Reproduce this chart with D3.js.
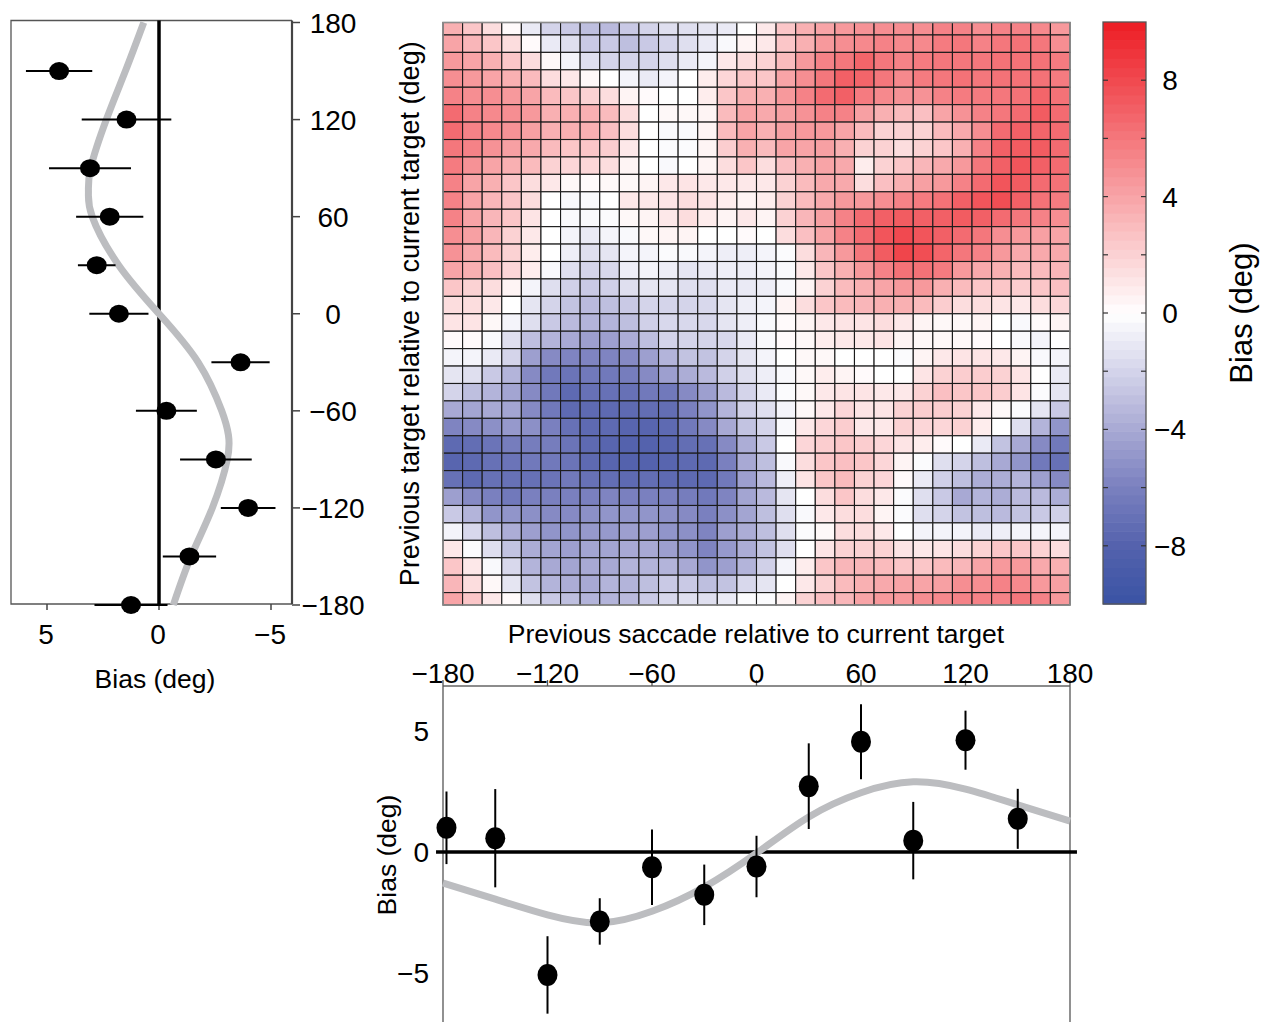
<!DOCTYPE html>
<html><head><meta charset="utf-8">
<script src="https://cdn.jsdelivr.net/npm/d3@7"></script>
<style>
body{margin:0;background:#fff}
svg{display:block}
text{font-family:"Liberation Sans",Arial,sans-serif;fill:#000}
</style>
</head><body>
<svg id="chart" width="1265" height="1022"></svg>
<script>
// ---------------- DATA ----------------
// Heat map: 34 rows (top = +180 deg previous target) x 32 columns (-180..180 previous saccade)
const heatColCount = 32;          // 11.25 deg columns
const heatRowStep = 10.77;        // deg per full row
const heatRowOffset = 7.7;        // height of the clipped first/last rows (deg)
const heatValues = [
 [3.5,2.5,1.5,0.2,-1,-2,-2.5,-3,-3.2,-2.5,-2,-1.5,-1.5,-1.2,-1,0, 1,2.5,3.5,4,4.5,4.8,5,5,5,5.5,5.5,5,5.5,5.5,5.2,4.5],
 [4,3.2,2.5,1.5,0.2,-1,-1.5,-2.5,-2.5,-3,-2.5,-2,-1.5,-1,-0.3,0.5, 1,2.5,3.5,4.5,5,5.2,5.5,5.2,5.2,5.8,6,5.5,6,6.2,6,5],
 [4.5,4,3.5,2.5,1.5,0.3,-0.5,-1.5,-2,-2,-2,-1.5,-1,-0.5,1,1.5, 2,3,4.5,5.5,6,6.8,6,5.5,5.8,6,6,6,6.2,6.2,6.2,5.8],
 [5,4.5,4,3.5,3,1.5,1,0.3,0,-0.5,-1,-0.5,0,0.8,1.8,2.5, 2.5,4,5,6,7,6.8,6,5.2,5.8,6,6.2,6,6.2,6.2,6.2,5.8],
 [5.5,5,5,4.5,4,3,2.5,2,1.5,0.5,0.2,0,0,0.8,2.5,3.5, 3.5,4.5,5.5,6.5,7,5.8,5.2,4.8,4.8,5.5,5.8,5.8,6,6.2,6.8,6.2],
 [6.5,5.5,5.2,5,4.5,3.5,3.5,3.5,3,1.5,0,0.3,0.3,0.5,3,4, 3.8,4.2,4.8,5.5,5.5,4.2,3.5,3,2.8,4,4.8,5.5,6,6.5,7.2,6.5],
 [6.5,5.5,5.2,4.8,4.2,3.5,3.5,3.5,2.8,1.5,0,-0.3,-0.3,0.5,3,4, 3.5,4.2,4.5,4.5,4,3,2,2,2,3,3.8,5,6.5,7,6.8,6.5],
 [6,5.5,4.8,4.2,3.8,3,2.5,2.5,2.2,1,0,-0.2,-0.2,0.5,2.2,3.5, 3,4,4,4.2,3.5,2,2,1.5,2,2.5,3.5,5.5,7,7.2,7.2,6.5],
 [5.8,4.8,4,3.5,3,2,1.8,1.8,1.5,0.5,0,-0.3,0,0.5,1.5,2.5, 1.5,2.8,3.5,4,3.8,0.8,2,2.5,3.2,3.8,4.5,6,7,7.5,7,6.5],
 [5.5,4,3.5,2.5,1.5,1,0.3,0.2,0.3,0.3,0.5,1,1.2,1,1,1, 1,2,3,3.8,3.8,1.5,2.8,3.5,4.2,4.5,5.5,6.5,7.5,7.2,6.5,6.2],
 [5.5,4,3.2,2.5,1.5,0,-0.3,-0.3,0,1,1,1.2,1.5,1.2,0.8,0.5, 0.8,2,3,3.8,4.5,4.5,5,5.5,5.8,6.2,7,7.5,7.8,7,6.2,5.8],
 [5.5,4,3.2,2.5,1.2,0,-0.3,-0.3,-0.2,0.3,0.5,1,1.5,0.8,0.5,1, 0.5,2,3.2,4.2,5.5,6.5,7,7.2,7,7,7.2,7,6.5,6,5.5,5],
 [5,4.2,3.2,2,1,0,-0.5,-1,-0.5,-0.3,0.3,0.5,0.5,0,0,0.2, 0,1.5,2.8,4,5.5,6.5,7.5,8,7.5,7,6.5,6,5,4.5,4.2,4],
 [4.8,3.8,3,2,0.8,0,-0.8,-1.5,-1.2,-0.5,-0.5,-0.2,-0.3,-0.5,-0.8,-0.8, -0.5,-0.2,1.5,3.2,4.5,6,7.2,8.2,7.8,6.8,6,5.5,4.5,3.8,3.8,3.8],
 [4,3.5,2.8,1.8,0.8,-0.3,-1.5,-2,-1.8,-0.8,-0.5,-0.8,-1.2,-1,-0.8,-0.8, -0.5,-0.3,1,2.5,3.5,4.5,5.5,6.2,6.2,5.8,4.5,3.8,3.5,3,3,3.2],
 [2.5,2,1.5,0.5,-0.5,-1.5,-2.2,-2.5,-2.2,-1.5,-1.2,-1.2,-1.5,-1.5,-1,-1, -0.8,-0.3,0.5,2,3,3.5,4,4.5,4.5,3.5,3,2.5,2.5,2.2,2.5,2.8],
 [1.5,1.5,1,0,-1.2,-2,-2.8,-3.2,-3,-2.5,-2,-2,-2,-1.8,-1.2,-0.8, -0.5,0.5,1.5,2.5,3,3.2,3.5,3.5,3,2.2,1.5,1.5,1.2,1,1.5,1.8],
 [1.2,1.2,0.3,-0.5,-1.5,-2.5,-3.2,-3.5,-3.5,-3,-2.2,-1.8,-1.8,-1.8,-1.2,-0.8, -0.3,0.2,0.5,1,1.2,1.2,1.5,1,0.5,0.3,0.3,0.5,0,-0.3,0.2,0.5],
 [0.2,0.2,-0.3,-1.5,-3,-3.5,-4,-4.5,-4.5,-3.8,-3,-2,-2,-2,-1.8,-1, -0.3,0.2,0.3,0.8,1,1,1.2,0.5,0.3,0.3,0.3,0.2,0,-0.3,-0.5,0],
 [-0.5,-0.5,-1,-2,-4.5,-5.5,-5.8,-5.8,-5.8,-5.5,-4.5,-3.5,-2.8,-2.8,-2,-1.2, -0.5,0,0.3,0.3,0,0,0,-0.2,0.5,1,1.2,1.2,1,0.5,-0.3,-0.5],
 [-1.2,-1.5,-2.5,-3.5,-5.5,-6.5,-6.8,-6.5,-6.5,-6.2,-5.5,-4.5,-3.8,-3.2,-2.2,-1.5, -0.8,-0.3,0.3,0.8,0.5,0.2,0,0,1.2,2,2.2,2.2,2,1.2,0,-1],
 [-2,-3,-3.5,-4.2,-5.5,-6.5,-7.5,-7,-7,-7,-6.5,-6.5,-5.5,-4.5,-3.2,-2, -1,-0.2,0.3,1,1.2,1.2,1,1,2,2.8,2.5,2.5,2.2,1.2,-0.2,-1.2],
 [-4,-4.2,-4,-4.2,-5.5,-6.5,-7.5,-7.5,-7.5,-7.5,-7.2,-7.2,-6,-5,-3.5,-2.2, -1.5,-0.5,0.3,1,1.8,1.2,1.2,2,2.2,2.2,2,1,0.3,-0.2,-1.2,-2.5],
 [-5.8,-5.5,-5.2,-4.8,-5.2,-6,-7,-7.5,-7.5,-7.8,-7.8,-7.5,-6.5,-5.5,-4,-2.8, -2,-0.3,1,1.8,2.2,1,1,2,1.8,1.8,2,0.8,0,-1.5,-3.5,-5],
 [-7.5,-7.2,-6.8,-6.2,-6.2,-6.2,-6.8,-7.5,-7.8,-8,-8,-7.8,-7.2,-7,-5.5,-3.8, -2.5,0,1.8,2.2,2.5,2.2,1.8,1.2,0.8,0.2,0,-1,-2.8,-4,-5.5,-6.5],
 [-7.8,-7.5,-7,-6.8,-6.5,-6.5,-6.8,-7.5,-7.8,-8,-8,-7.8,-7.5,-7.5,-6,-4, -3,-0.3,1.5,2.5,2.8,2.5,1.8,0.5,-0.2,-1.5,-2,-3,-4,-5,-6.5,-7],
 [-7,-7.5,-7,-7,-7,-6.8,-6.5,-7,-7.2,-7.5,-7.2,-7.5,-7.5,-7.5,-6.5,-4.5, -3.2,-0.8,1.2,2.5,3,2,1.8,0.2,-1,-2.2,-3,-3.8,-3.8,-3.5,-4.5,-5.5],
 [-4.5,-5.5,-6,-6.5,-6,-6,-6,-6,-5.8,-6,-6,-6,-6.2,-6.5,-5.8,-4.2, -3.2,-1.2,0,1.5,2.5,1.5,1,-0.2,-1.5,-2.5,-4,-3.5,-3.8,-3.2,-3.2,-3.8],
 [-2.5,-3.5,-5,-5,-5.2,-5.5,-5.5,-5.2,-5,-5,-5,-5.2,-5.5,-6,-5.2,-4.2, -3,-1.5,-0.3,1,1.5,1.5,0.5,-0.2,-1.5,-2,-2.8,-3,-3.2,-2.8,-2.5,-2.2],
 [-0.5,-1.8,-3,-3.8,-4.5,-5,-5,-4.8,-4.8,-4.5,-4.5,-5,-5.2,-5.8,-4.5,-3.8, -3,-1.5,-0.2,0.3,1.5,1.5,1,0,-0.5,-0.5,-0.5,-1,-0.8,-0.5,-0.5,-0.5],
 [1,-0.2,-1.5,-2.8,-3.8,-4.2,-4.5,-4.2,-4.2,-4,-4,-4.5,-5,-5.8,-4.8,-3.8, -2.8,-1.5,0,1.2,2,2,2,1.2,1,1.2,1.5,2,2.5,2.5,2,1.5],
 [2.5,1,-0.3,-1.8,-3.5,-4,-4.2,-4,-4,-3.5,-3.5,-3.5,-4,-5,-4.5,-3.5, -2.2,-0.5,0.8,2.5,3.2,3.2,3,2.5,2.5,3,3.2,4,4.5,4.5,3.8,3.5],
 [3.2,1.5,0.3,-1.2,-2.8,-3.5,-3.8,-4,-3.5,-3.5,-3,-2.5,-2.5,-3,-2.8,-1.8, -1.2,0,1,2,3,3.5,3.8,4,4,4.2,5,5,5.5,5.2,4.5,4.2],
 [4,2.5,1,0.2,-1.5,-2.5,-3,-3.5,-3.5,-3.2,-2.5,-1.8,-1.5,-1.5,-1,-0.2, -0.2,0.5,2,2.8,3.2,4,4.5,4.5,5,5.2,5.5,5.5,5.5,6,5.5,4.5]
];

// Left panel: bias vs previous target angle
const sideAngles = [150,120,90,60,30,0,-30,-60,-90,-120,-150,-180];
const sideBias   = [4.46,1.45,3.08,2.2,2.78,1.79,-3.64,-0.33,-2.54,-3.98,-1.36,1.25];
const sideErr    = [1.48,2.0,1.83,1.5,0.84,1.32,1.3,1.36,1.6,1.22,1.19,1.63];
const sideFitAngles = [180,150,120,90,75,60,30,0,-30,-60,-75,-90,-120,-150,-180];
const sideFitBias   = [0.68,1.5,2.35,3.05,3.15,2.98,1.8,0,-1.75,-2.8,-3.1,-3.05,-2.38,-1.43,-0.64];

// Bottom panel: bias vs previous saccade angle
const bottomAngles = [-178,-150,-120,-90,-60,-30,0,30,60,90,120,150];
const bottomBias   = [1.0,0.57,-5.08,-2.87,-0.63,-1.77,-0.6,2.72,4.56,0.47,4.62,1.37];
const bottomErr    = [1.5,2.03,1.6,0.96,1.56,1.25,1.27,1.77,1.55,1.6,1.22,1.24];
const bottomFitAngles = [-180,-150,-120,-90,-60,-30,0,30,60,90,120,150,180];
const bottomFitBias   = [-1.28,-1.95,-2.6,-2.93,-2.45,-1.45,-0.05,1.45,2.45,2.9,2.6,1.95,1.28];

// Tick labels
const angleTicks = [-180,-120,-60,0,60,120,180];
const biasTicks = [5,0,-5];
const colorbarTicks = [8,4,0,-4,-8];
const colorbarMinorTicks = [-8,-6,-4,-2,0,2,4,6,8];

// ---------------- DRAW ----------------
const svg = d3.select("#chart");
const fmt = v => (v < 0 ? "\u2212" + Math.abs(v) : String(v));
const TICK_FS = "28px";

const color = d3.scaleLinear()
  .domain([-10,-8,-6,-4,-2,0,10])
  .range(["#3a53a4","#5462ad","#7a80bf","#a8a9d4","#d4d4ea","#ffffff","#ed1c24"])
  .clamp(true);

// shared angular scales
const xAng = d3.scaleLinear().domain([-180,180]).range([443,1070]);
const yAng = d3.scaleLinear().domain([-180,180]).range([605,22.5]);

// ---- heat map ----
const colStep = 360 / heatColCount;
const heat = svg.append("g");
heatValues.forEach((row, k) => {
  const top = k === 0 ? 180 : 180 - heatRowOffset - (k - 1) * heatRowStep;
  const bot = Math.max(-180, 180 - heatRowOffset - k * heatRowStep);
  heat.selectAll(null).data(row).enter().append("rect")
    .attr("x", (d,i) => xAng(-180 + i*colStep))
    .attr("y", yAng(top))
    .attr("width", xAng(colStep) - xAng(0))
    .attr("height", yAng(bot) - yAng(top))
    .attr("fill", d => color(d))
    .attr("stroke", "#1b1b1b")
    .attr("stroke-width", 1.1);
});
heat.append("rect").attr("x", xAng(-180)).attr("y", yAng(180))
  .attr("width", xAng(180)-xAng(-180)).attr("height", yAng(-180)-yAng(180))
  .attr("fill","none").attr("stroke","#8c8c8c").attr("stroke-width",1.5);

svg.append("text")
  .attr("transform", `translate(419,${(yAng(180)+yAng(-180))/2}) rotate(-90)`)
  .attr("text-anchor","middle").style("font-size","27px")
  .text("Previous target relative to current target (deg)");

// ---- colour bar ----
const cb = {x:1103, w:43};
const yC = d3.scaleLinear().domain([-10,10]).range([604,22]);
const nBands = 64;
const bandVals = d3.range(nBands);
svg.append("g").selectAll("rect").data(bandVals).enter().append("rect")
  .attr("x", cb.x).attr("width", cb.w)
  .attr("y", i => yC(-10 + (i+1)*20/nBands))
  .attr("height", i => yC(-10 + i*20/nBands) - yC(-10 + (i+1)*20/nBands) + 0.6)
  .attr("fill", i => color(-10 + (i+0.5)*20/nBands));
svg.append("rect").attr("x",cb.x).attr("y",yC(10)).attr("width",cb.w)
  .attr("height",yC(-10)-yC(10)).attr("fill","none").attr("stroke","#555").attr("stroke-width",1.3);
const cbt = svg.append("g");
cbt.selectAll("line.l").data(colorbarMinorTicks).enter().append("line")
  .attr("x1",cb.x).attr("x2",cb.x+5).attr("y1",d=>yC(d)).attr("y2",d=>yC(d))
  .attr("stroke","#333").attr("stroke-width",1.2);
cbt.selectAll("line.r").data(colorbarMinorTicks).enter().append("line")
  .attr("x1",cb.x+cb.w-5).attr("x2",cb.x+cb.w).attr("y1",d=>yC(d)).attr("y2",d=>yC(d))
  .attr("stroke","#333").attr("stroke-width",1.2);
cbt.selectAll("text").data(colorbarTicks).enter().append("text")
  .attr("x",1170).attr("y",d=>yC(d)).attr("dy","0.36em").attr("text-anchor","middle")
  .style("font-size",TICK_FS).text(fmt);
svg.append("text")
  .attr("transform", `translate(1252,${yC(0)}) rotate(-90)`)
  .attr("text-anchor","middle").style("font-size","31px").text("Bias (deg)");

// ---- left panel ----
const xL = d3.scaleLinear().domain([5,-5]).range([47,271]);
const L = {x0:11, x1:292, y0:yAng(180)-2, y1:604};
const lp = svg.append("g");
lp.append("path")
  .attr("d", `M${L.x1},${L.y0}H${L.x0}V${L.y1}H${L.x1}`)
  .attr("fill","none").attr("stroke","#555").attr("stroke-width",1.3);
lp.append("line").attr("x1",L.x1).attr("x2",L.x1).attr("y1",L.y0).attr("y2",L.y1)
  .attr("stroke","#444").attr("stroke-width",2.2);
lp.selectAll("line.yt").data(angleTicks).enter().append("line")
  .attr("x1",L.x1).attr("x2",L.x1+8).attr("y1",d=>yAng(d)).attr("y2",d=>yAng(d))
  .attr("stroke","#444").attr("stroke-width",1.5);
lp.selectAll("text.yt").data(angleTicks).enter().append("text")
  .attr("x",333).attr("y",d=>yAng(d)).attr("dy","0.36em").attr("text-anchor","middle")
  .style("font-size",TICK_FS).text(fmt);
lp.selectAll("line.xt").data(biasTicks).enter().append("line")
  .attr("x1",d=>xL(d)).attr("x2",d=>xL(d)).attr("y1",L.y1).attr("y2",L.y1+6)
  .attr("stroke","#444").attr("stroke-width",1.5);
lp.selectAll("text.xt").data(biasTicks).enter().append("text")
  .attr("x",d=>xL(d)-1).attr("y",634).attr("dy","0.36em").attr("text-anchor","middle")
  .style("font-size",TICK_FS).text(fmt);
lp.append("text").attr("x",155).attr("y",678).attr("dy","0.36em").attr("text-anchor","middle")
  .style("font-size","26.5px").text("Bias (deg)");
// zero line
lp.append("line").attr("x1",xL(0)).attr("x2",xL(0)).attr("y1",L.y0).attr("y2",L.y1)
  .attr("stroke","#000").attr("stroke-width",3.5);
// fit curve
const sideFit = sideFitAngles.map((a,i)=>[a, sideFitBias[i]]);
lp.append("path").datum(sideFit)
  .attr("d", d3.line().x(d=>xL(d[1])).y(d=>yAng(d[0])).curve(d3.curveNatural))
  .attr("fill","none").attr("stroke","#bcbdc0").attr("stroke-width",7).attr("stroke-linecap","butt");
// error bars + points
lp.selectAll("line.err").data(sideAngles).enter().append("line")
  .attr("x1",(d,i)=>xL(sideBias[i]+sideErr[i])).attr("x2",(d,i)=>xL(sideBias[i]-sideErr[i]))
  .attr("y1",d=>yAng(d)).attr("y2",d=>yAng(d))
  .attr("stroke","#000").attr("stroke-width",2);
lp.selectAll("ellipse").data(sideAngles).enter().append("ellipse")
  .attr("cx",(d,i)=>xL(sideBias[i])).attr("cy",d=>yAng(d))
  .attr("rx",10).attr("ry",9).attr("fill","#000");

// ---- bottom panel ----
const yB = d3.scaleLinear().domain([-5,5]).range([973,731]);
const B = {top:686, bottom:1030};
const bp = svg.append("g");
bp.append("line").attr("x1",xAng(-180)).attr("x2",xAng(180)).attr("y1",B.top).attr("y2",B.top)
  .attr("stroke","#666").attr("stroke-width",1.5);
bp.selectAll("line.side").data([-180,180]).enter().append("line")
  .attr("x1",d=>xAng(d)).attr("x2",d=>xAng(d)).attr("y1",B.top).attr("y2",B.bottom)
  .attr("stroke","#555").attr("stroke-width",1.3);
bp.selectAll("line.xt").data(angleTicks).enter().append("line")
  .attr("x1",d=>xAng(d)).attr("x2",d=>xAng(d)).attr("y1",B.top).attr("y2",B.top-6)
  .attr("stroke","#555").attr("stroke-width",1.3);
bp.selectAll("text.xt").data(angleTicks).enter().append("text")
  .attr("x",d=>xAng(d)).attr("y",673).attr("dy","0.36em").attr("text-anchor","middle")
  .style("font-size",TICK_FS).text(fmt);
svg.append("text").attr("x",756).attr("y",633).attr("dy","0.36em").attr("text-anchor","middle")
  .style("font-size","26.5px").text("Previous saccade relative to current target");
bp.selectAll("text.yt").data(biasTicks).enter().append("text")
  .attr("x",429).attr("y",d=>yB(d)).attr("dy","0.36em").attr("text-anchor","end")
  .style("font-size",TICK_FS).text(fmt);
bp.append("text")
  .attr("transform",`translate(396,${yB(0)+3}) rotate(-90)`)
  .attr("text-anchor","middle").style("font-size","26.5px").text("Bias (deg)");
bp.append("line").attr("x1",xAng(-184)).attr("x2",xAng(184)).attr("y1",yB(0)).attr("y2",yB(0))
  .attr("stroke","#000").attr("stroke-width",3.5);
const bottomFit = bottomFitAngles.map((a,i)=>[a, bottomFitBias[i]]);
bp.append("path").datum(bottomFit)
  .attr("d", d3.line().x(d=>xAng(d[0])).y(d=>yB(d[1])).curve(d3.curveNatural))
  .attr("fill","none").attr("stroke","#bcbdc0").attr("stroke-width",7);
bp.selectAll("line.err").data(bottomAngles).enter().append("line")
  .attr("x1",d=>xAng(d)).attr("x2",d=>xAng(d))
  .attr("y1",(d,i)=>yB(bottomBias[i]+bottomErr[i])).attr("y2",(d,i)=>yB(bottomBias[i]-bottomErr[i]))
  .attr("stroke","#000").attr("stroke-width",2);
bp.selectAll("ellipse").data(bottomAngles).enter().append("ellipse")
  .attr("cx",d=>xAng(d)).attr("cy",(d,i)=>yB(bottomBias[i]))
  .attr("rx",10).attr("ry",11).attr("fill","#000");
</script>
</body></html>
